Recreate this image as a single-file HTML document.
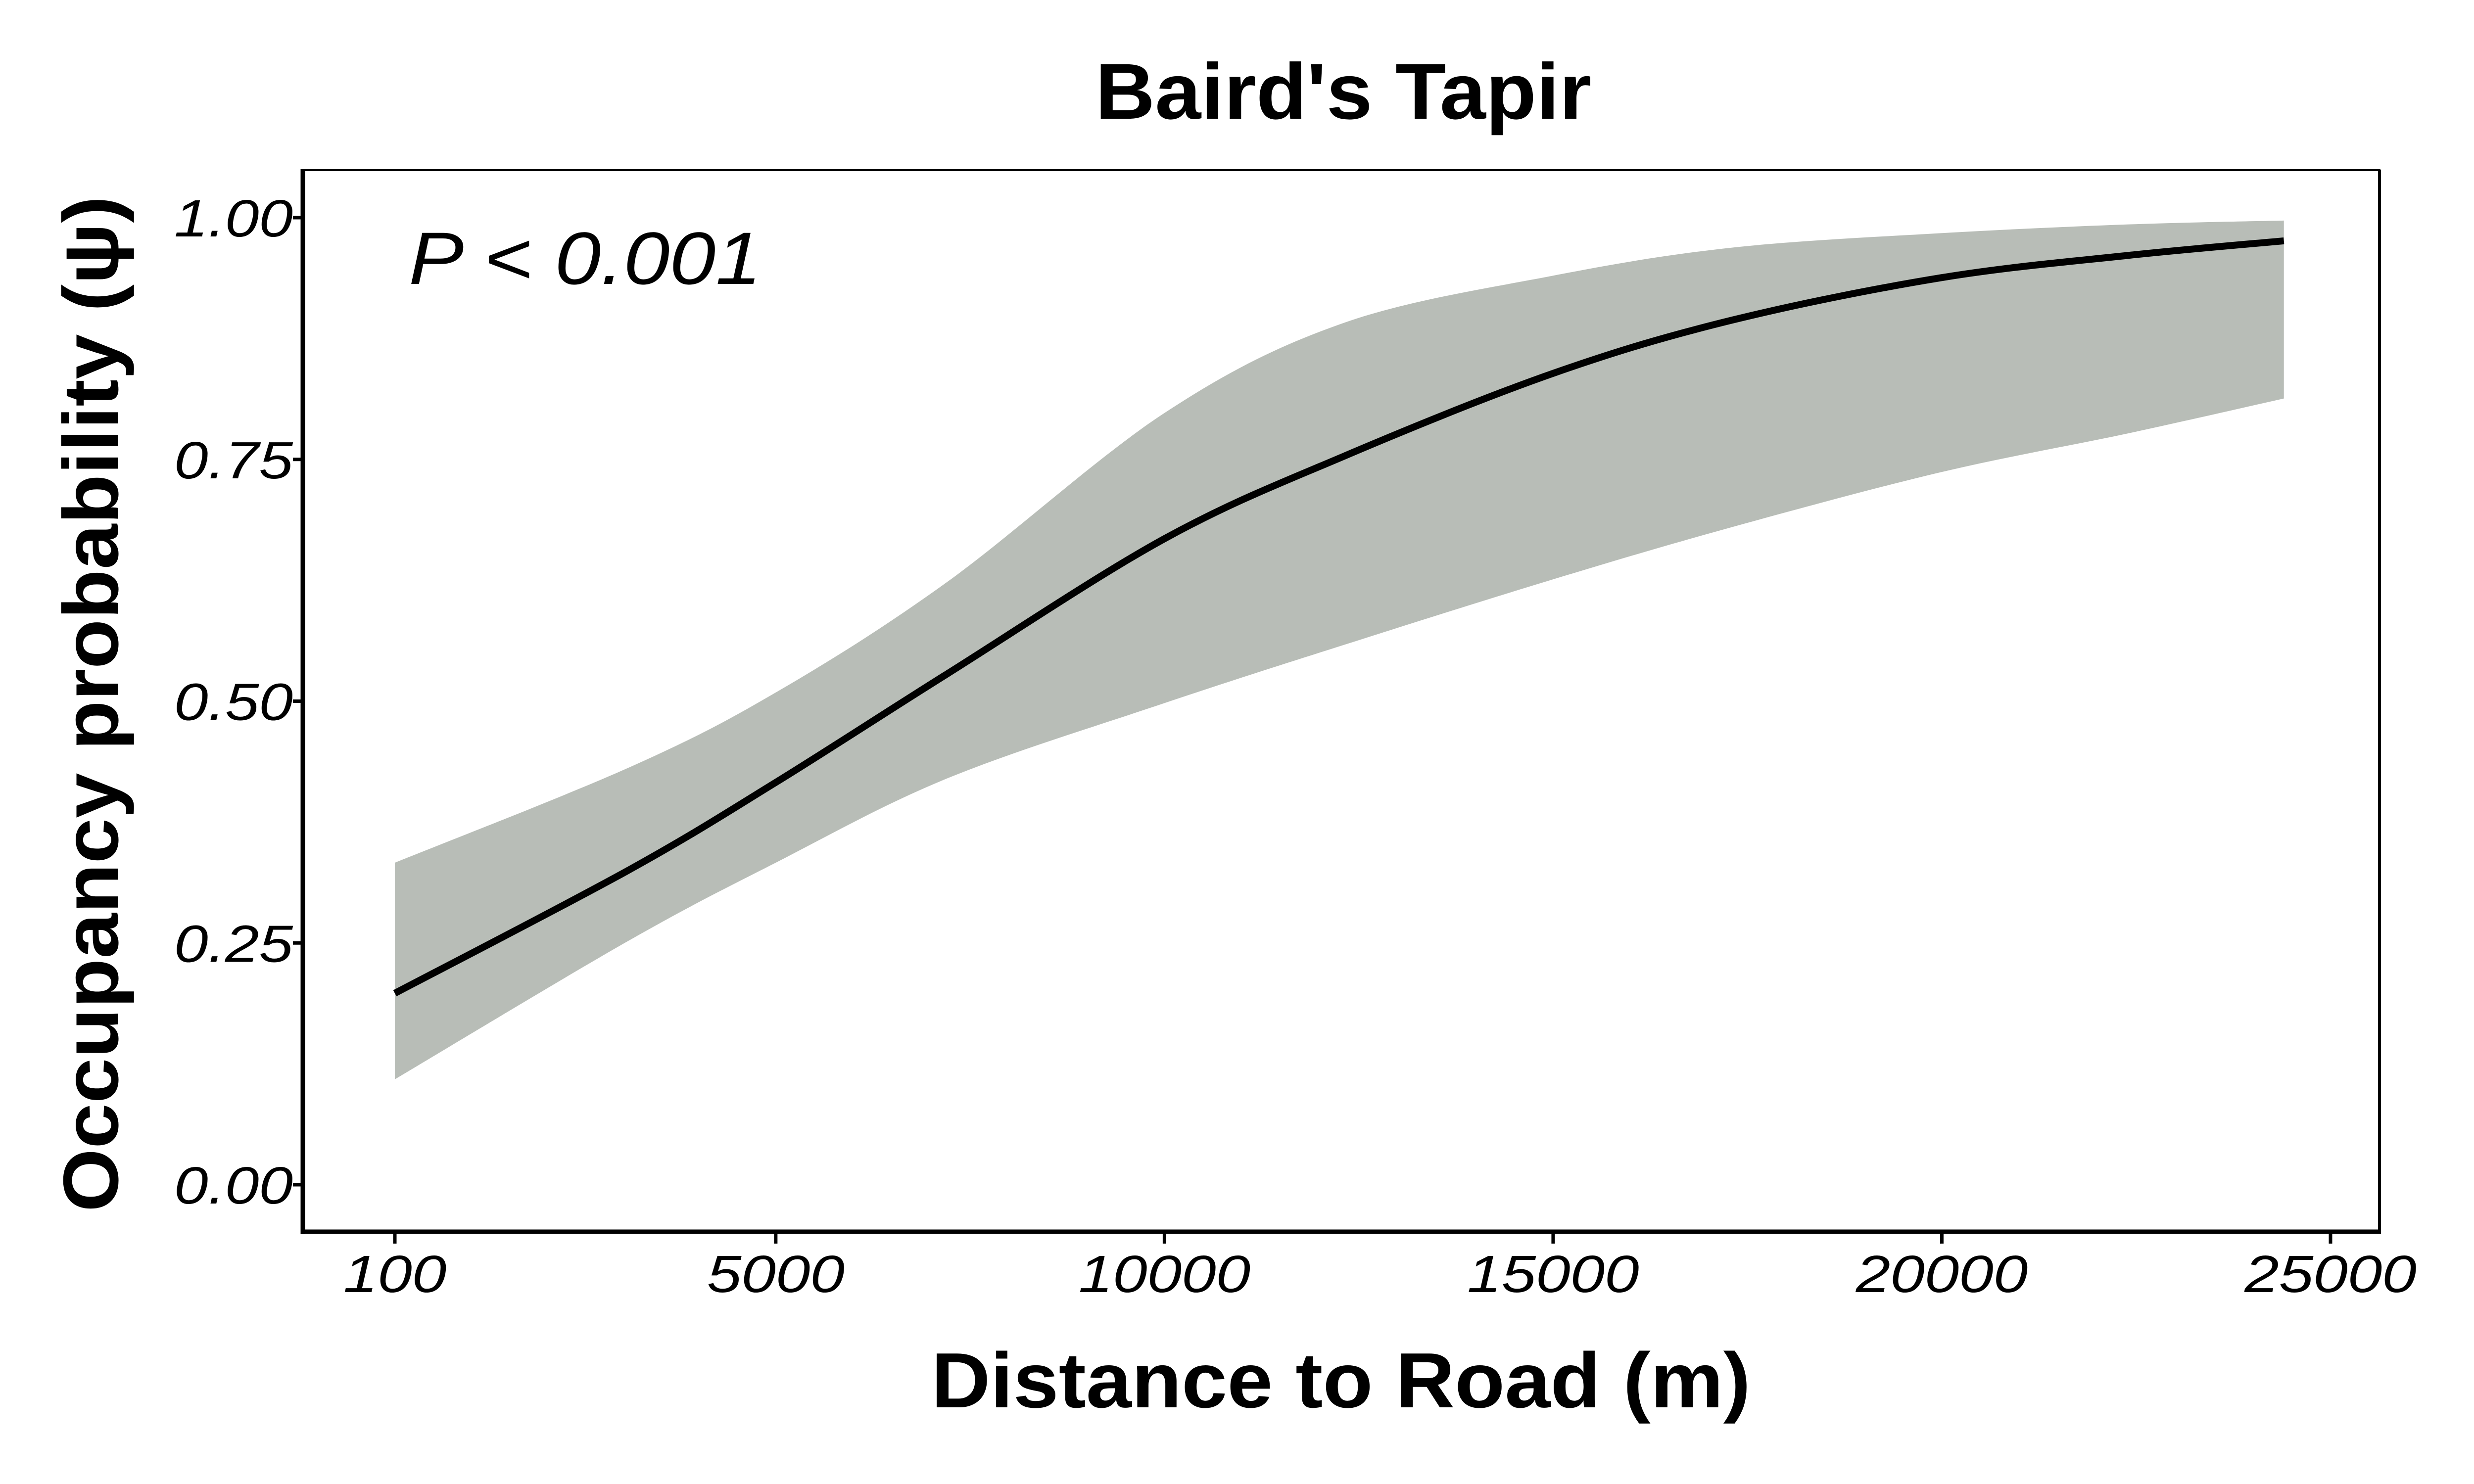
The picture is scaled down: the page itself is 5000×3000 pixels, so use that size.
<!DOCTYPE html>
<html><head><meta charset="utf-8"><style>
html,body{margin:0;padding:0;background:#fff;}
svg{display:block;}
text{font-family:"Liberation Sans",Arial,sans-serif;}
</style></head><body>
<svg id="chart" width="5000" height="3000" viewBox="0 0 5000 3000" xmlns="http://www.w3.org/2000/svg">
<rect x="0" y="0" width="5000" height="3000" fill="#fff"/>
<g id="plot"></g>
<text x="2715" y="240" font-size="160" font-weight="bold" text-anchor="middle" textLength="1003" lengthAdjust="spacingAndGlyphs">Baird's Tapir</text>
<text x="2710" y="2845" font-size="158" font-weight="bold" text-anchor="middle" textLength="1656" lengthAdjust="spacingAndGlyphs">Distance to Road (m)</text>
<text transform="translate(238,1423) rotate(-90)" font-size="158" font-weight="bold" text-anchor="middle" textLength="2054" lengthAdjust="spacingAndGlyphs">Occupancy probability (ψ)</text>
<text x="826" y="574" font-size="150" font-style="italic" textLength="713" lengthAdjust="spacingAndGlyphs">P &lt; 0.001</text>
</svg>
<script>
const xVals = [100, 3100, 5000, 7200, 10000, 12300, 15000, 17300, 20000, 22400, 24400];
const meanVals = [0.198, 0.325, 0.416, 0.528, 0.668, 0.753, 0.839, 0.894, 0.938, 0.961, 0.976];
const upperVals = [0.333, 0.431, 0.509, 0.623, 0.798, 0.891, 0.940, 0.969, 0.984, 0.993, 0.997];
const lowerVals = [0.109, 0.252, 0.333, 0.420, 0.498, 0.558, 0.626, 0.680, 0.737, 0.777, 0.813];
const xTicks = [100, 5000, 10000, 15000, 20000, 25000];
const xTickLabels = ["100", "5000", "10000", "15000", "20000", "25000"];
const yTicks = [0, 0.25, 0.5, 0.75, 1];
const yTickLabels = ["0.00", "0.25", "0.50", "0.75", "1.00"];

const NS = "http://www.w3.org/2000/svg";
const plot = document.getElementById('plot');
const L = 612, R = 4809, T = 344, B = 2490;
function xs(v){ return 798 + (v - 100) * (4710 - 798) / 24900; }
function ys(v){ return 2395 - v * (2395 - 440); }
function mk(tag, attrs){ const e = document.createElementNS(NS, tag); for (const k in attrs) e.setAttribute(k, attrs[k]); plot.appendChild(e); return e; }
function smooth(pts){
  let d = "M" + pts[0][0] + "," + pts[0][1];
  for (let i = 0; i < pts.length - 1; i++) {
    const p0 = pts[Math.max(0, i - 1)], p1 = pts[i], p2 = pts[i + 1], p3 = pts[Math.min(pts.length - 1, i + 2)];
    const c1x = p1[0] + (p2[0] - p0[0]) / 6, c1y = p1[1] + (p2[1] - p0[1]) / 6;
    const c2x = p2[0] - (p3[0] - p1[0]) / 6, c2y = p2[1] - (p3[1] - p1[1]) / 6;
    d += " C" + c1x + "," + c1y + " " + c2x + "," + c2y + " " + p2[0] + "," + p2[1];
  }
  return d;
}
const up = xVals.map((x, i) => [xs(x), ys(upperVals[i])]);
const lo = xVals.map((x, i) => [xs(x), ys(lowerVals[i])]).reverse();
const loD = smooth(lo);
let bandD = smooth(up) + " L" + lo[0][0] + "," + lo[0][1] + loD.slice(loD.indexOf(" C")) + " Z";
const band = mk('path', {d: bandD, fill: '#b8bdb7', stroke: 'none'});


const line = mk('path', {d: smooth(xVals.map((x, i) => [xs(x), ys(meanVals[i])])), fill: 'none', stroke: '#000', 'stroke-width': 14});



const frame = mk('rect', {x: L, y: T, width: R - L, height: B - T, fill: 'none', stroke: '#000', 'stroke-width': 4});


const yAxis = mk('line', {x1: L, y1: T - 2, x2: L, y2: B + 5, stroke: '#000', 'stroke-width': 9});


const xAxis = mk('line', {x1: L - 4, y1: B, x2: R + 3, y2: B, stroke: '#000', 'stroke-width': 9});


const rAxis = mk('line', {x1: R, y1: T, x2: R, y2: B, stroke: '#000', 'stroke-width': 6});



yTicks.forEach((v, i) => {
  const t = mk('line', {x1: L - 20, y1: ys(v), x2: L, y2: ys(v), stroke: '#000', 'stroke-width': 7});
  
  
  const lb = mk('text', {x: 592, y: ys(v) + 38, 'font-size': 106, 'font-style': 'italic', 'text-anchor': 'end', textLength: 240, lengthAdjust: 'spacingAndGlyphs'});
  lb.textContent = yTickLabels[i];
  
  
});
xTicks.forEach((v, i) => {
  const t = mk('line', {x1: xs(v), y1: B, x2: xs(v), y2: B + 24, stroke: '#000', 'stroke-width': 7});
  
  
  const lb = mk('text', {x: xs(v), y: 2612, 'font-size': 106, 'font-style': 'italic', 'text-anchor': 'middle', textLength: xTickLabels[i].length * 69.5, lengthAdjust: 'spacingAndGlyphs'});
  lb.textContent = xTickLabels[i];
  
  
});
</script>
</body></html>
